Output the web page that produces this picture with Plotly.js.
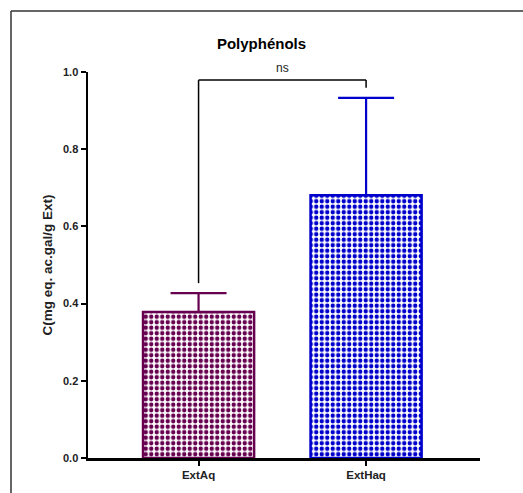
<!DOCTYPE html>
<html><head><meta charset="utf-8">
<script src="https://cdn.plot.ly/plotly-3.0.1.min.js"></script>
<style>body{margin:0;padding:0;background:#fff}#chart{width:523px;height:493px}</style>
</head><body><div id="chart"></div>
<script>
const categories = ['ExtAq', 'ExtHaq'];
const means = [0.378, 0.681];
const errors = [0.049, 0.252];
const barColors = ['#66004f', '#0000cc'];
const yTicks = [0.0, 0.2, 0.4, 0.6, 0.8, 1.0];
const yTickText = ['0.0', '0.2', '0.4', '0.6', '0.8', '1.0'];
const sigLabel = 'ns';

const font = 'Liberation Sans, Arial, sans-serif';
const traces = categories.map((c, i) => ({
  type: 'bar', x: [c], y: [means[i]], width: 0.663,
  marker: {color: '#ffffff', line: {color: barColors[i], width: 2.5},
    pattern: {shape: '.', fgcolor: barColors[i], bgcolor: '#ffffff', fgopacity: 1, size: 5.5, solidity: 0.5, fillmode: 'overlay'}},
  error_y: {type: 'data', array: [errors[i]], arrayminus: [0], symmetric: false, color: barColors[i], thickness: 2.2, width: 28},
  showlegend: false, hoverinfo: 'none'
}));

const bracketTop = 0.979;
const leftBottom = means[0] + errors[0] + 0.026;
const rightBottom = means[1] + errors[1] + 0.026;
const shapes = [
  {type: 'line', xref: 'x', yref: 'y', x0: 0, x1: 0, y0: leftBottom, y1: bracketTop, line: {color: '#000', width: 1.5}},
  {type: 'line', xref: 'x', yref: 'y', x0: 0, x1: 1, y0: bracketTop, y1: bracketTop, line: {color: '#000', width: 1.5}},
  {type: 'line', xref: 'x', yref: 'y', x0: 1, x1: 1, y0: rightBottom, y1: bracketTop, line: {color: '#000', width: 1.5}},
  // figure frame (top and left edges)
  {type: 'line', xref: 'paper', yref: 'paper', x0: -77/392, x1: 1.2, y0: 1 + 61/386, y1: 1 + 61/386, line: {color: '#333', width: 1.5}},
  {type: 'line', xref: 'paper', yref: 'paper', x0: -77/392, x1: -77/392, y0: 1 + 61/386, y1: -0.2, line: {color: '#333', width: 1.5}}
];

const layout = {
  width: 523, height: 493,
  margin: {l: 88, r: 43, t: 72, b: 35},
  paper_bgcolor: '#fff', plot_bgcolor: '#fff',
  title: {text: '<b>Polyphénols</b>', font: {family: font, size: 15, color: '#000'}, x: 0.5, xanchor: 'center', y: 0.912, yanchor: 'middle'},
  xaxis: {type: 'category', range: [-0.66, 1.68], showgrid: false, zeroline: false,
    showline: true, linecolor: '#000', linewidth: 2.5, ticks: 'outside', ticklen: 5, tickwidth: 2, tickcolor: '#000',
    tickfont: {family: font, size: 11.5, color: '#222'}, tickprefix: '<b>', ticksuffix: '</b>'},
  yaxis: {range: [0, 1], tickvals: yTicks, ticktext: yTickText.map(t => '<b>' + t + '</b>'), showgrid: false, zeroline: false,
    showline: true, linecolor: '#000', linewidth: 2.5, ticks: 'outside', ticklen: 5, tickwidth: 2, tickcolor: '#000',
    tickfont: {family: font, size: 11, color: '#222'},
    title: {text: '<b>C(mg eq. ac.gal/g Ext)</b>', font: {family: font, size: 13.5, color: '#222'}, standoff: 8}},
  shapes: shapes,
  annotations: [{xref: 'x', yref: 'y', x: 0.5, y: bracketTop, yshift: 12, text: sigLabel, showarrow: false,
    font: {family: font, size: 12, color: '#222'}}],
  bargap: 0
};
Plotly.newPlot('chart', traces, layout, {displayModeBar: false, staticPlot: true});
</script></body></html>
